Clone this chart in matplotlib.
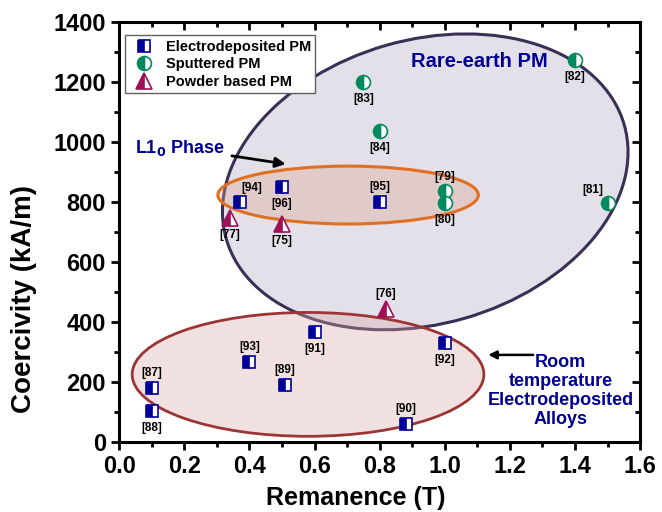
import matplotlib.pyplot as plt
import numpy as np
from matplotlib.patches import Ellipse
from matplotlib.transforms import Affine2D, ScaledTranslation

plt.rcParams['font.family'] = ['Liberation Sans', 'DejaVu Sans']
plt.rcParams['font.weight'] = 'bold'

# electrodeposited PM
ed_x = [0.37, 0.50, 0.80, 0.60, 1.00, 0.40, 0.51, 0.10, 0.10, 0.88]
ed_y = [800, 850, 800, 365, 330, 267, 190, 180, 103, 60]
ed_ref = ['[94]', '[96]', '[95]', '[91]', '[92]', '[93]', '[89]', '[87]', '[88]', '[90]']
ed_pos = ['ur', 'b', 'a', 'b', 'b', 'a', 'a', 'a', 'b', 'a']

# sputtered PM
sp_x = [1.00, 1.00, 0.75, 0.80, 1.40, 1.50]
sp_y = [835, 797, 1200, 1037, 1272, 797]
sp_ref = ['[79]', '[80]', '[83]', '[84]', '[82]', '[81]']
sp_pos = ['a', 'b', 'b', 'b', 'b', 'ul']

# powder based PM
pw_x = [0.34, 0.50, 0.82]
pw_y = [745, 727, 443]
pw_ref = ['[77]', '[75]', '[76]']
pw_pos = ['b', 'b', 'a']

offsets = {'a': (0, 10.5), 'b': (0, -12), 'ur': (9, 10), 'ul': (-11, 9)}

fig = plt.figure(figsize=(6.62, 5.12), dpi=100)
ax = fig.add_axes([0.180, 0.137, 0.787, 0.820])
ax.set_xlim(0, 1.6)
ax.set_ylim(0, 1400)

# ellipses
# rare earth - tilted, sized in pixels around a data centre
rot = (Affine2D().scale(1 / 100) + fig.dpi_scale_trans
       + ScaledTranslation(0.94, 867, ax.transData))
ax.add_patch(Ellipse((0, 0), 414, 284, angle=16, transform=rot,
                     facecolor='#e4e0ea', edgecolor='#3a2f55', lw=2.2, zorder=1))
ax.add_patch(Ellipse((0.703, 823), 0.80, 193, facecolor='#dca58e', alpha=0.35,
                     edgecolor='none', zorder=2))
ax.add_patch(Ellipse((0.703, 823), 0.80, 193, facecolor='none',
                     edgecolor='#e07020', lw=2.2, zorder=2))
ax.add_patch(Ellipse((0.58, 225), 1.08, 413, facecolor='#d8a8a8', alpha=0.35,
                     edgecolor='none', zorder=2))
ax.add_patch(Ellipse((0.58, 225), 1.08, 413, facecolor='none',
                     edgecolor='#9c3535', lw=2.0, zorder=2))

ax.plot(ed_x, ed_y, 's', ms=9, color='#00009a', fillstyle='left',
        markerfacecoloralt='white', mec='#00009a', mew=1.2,
        label='Electrodeposited PM', zorder=5)
ax.plot(sp_x, sp_y, 'o', ms=10, color='#008a5e', fillstyle='left',
        markerfacecoloralt='white', mec='#008a5e', mew=1.2,
        label='Sputtered PM', zorder=5)
ax.plot(pw_x, pw_y, '^', ms=11, color='#a0105a', fillstyle='left',
        markerfacecoloralt='white', mec='#a0105a', mew=1.2,
        label='Powder based PM', zorder=5)

for xs, ys, refs, pos in [(ed_x, ed_y, ed_ref, ed_pos), (sp_x, sp_y, sp_ref, sp_pos),
                          (pw_x, pw_y, pw_ref, pw_pos)]:
    for x, y, r, p in zip(xs, ys, refs, pos):
        ax.annotate(r, (x, y), xytext=offsets[p], textcoords='offset points',
                    ha='center', va='center', fontsize=8.5, fontweight='bold', zorder=6)

# texts and arrows
ax.text(1.106, 1267, 'Rare-earth PM', color='#000090', fontsize=14.5,
        fontweight='bold', ha='center', va='center', zorder=6)
ax.annotate('L1$_\\mathbf{0}$ Phase', xy=(0.52, 925), xytext=(0.187, 980),
            color='#000090', fontsize=13, fontweight='bold', ha='center', va='center',
            arrowprops=dict(arrowstyle='-|>', color='black', lw=2, mutation_scale=15,
                            shrinkA=3),
            zorder=6)
ax.annotate('', xy=(1.125, 290), xytext=(1.28, 290),
            arrowprops=dict(arrowstyle='-|>', color='black', lw=1.8, mutation_scale=12),
            zorder=6)
ax.text(1.355, 170, 'Room\ntemperature\nElectrodeposited\nAlloys', color='#000090',
        fontsize=13, fontweight='bold', ha='center', va='center',
        linespacing=1.15, zorder=6)

ax.set_xlabel('Remanence (T)', fontsize=18, fontweight='bold')
ax.set_ylabel('Coercivity (kA/m)', fontsize=20, fontweight='bold')
ax.xaxis.set_label_coords(0.455, -0.105)
ax.yaxis.set_label_coords(-0.158, 0.34)
ax.set_xticks(np.arange(0, 1.61, 0.2))
ax.set_yticks(np.arange(0, 1401, 200))
ax.set_xticks(np.arange(0.1, 1.6, 0.2), minor=True)
ax.set_yticks(np.arange(100, 1400, 200), minor=True)
ax.tick_params(which='major', length=6, width=2, labelsize=17, direction='out')
ax.tick_params(which='minor', length=3.5, width=2, direction='out')
for lab in ax.get_xticklabels() + ax.get_yticklabels():
    lab.set_fontweight('bold')
for s in ax.spines.values():
    s.set_linewidth(2.2)

top = ax.secondary_xaxis('top')
top.set_xticks(np.arange(0, 1.61, 0.2))
top.set_xticks(np.arange(0.1, 1.6, 0.2), minor=True)
top.tick_params(which='major', direction='in', length=6, width=2, labeltop=False)
top.tick_params(which='minor', direction='in', length=3.5, width=2)
right = ax.secondary_yaxis('right')
right.set_yticks(np.arange(0, 1401, 200))
right.set_yticks(np.arange(100, 1400, 200), minor=True)
right.tick_params(which='major', direction='in', length=6, width=2, labelright=False)
right.tick_params(which='minor', direction='in', length=3.5, width=2)

leg = ax.legend(loc='upper left', bbox_to_anchor=(0.005, 0.975),
                prop={'weight': 'bold', 'size': 10.5}, fancybox=False, framealpha=1,
                edgecolor='#606060', borderpad=0.3, labelspacing=0.25,
                handletextpad=0.5, borderaxespad=0.2)
leg.get_frame().set_linewidth(1.0)
leg.set_zorder(7)

fig.savefig('out.png', dpi=100)
